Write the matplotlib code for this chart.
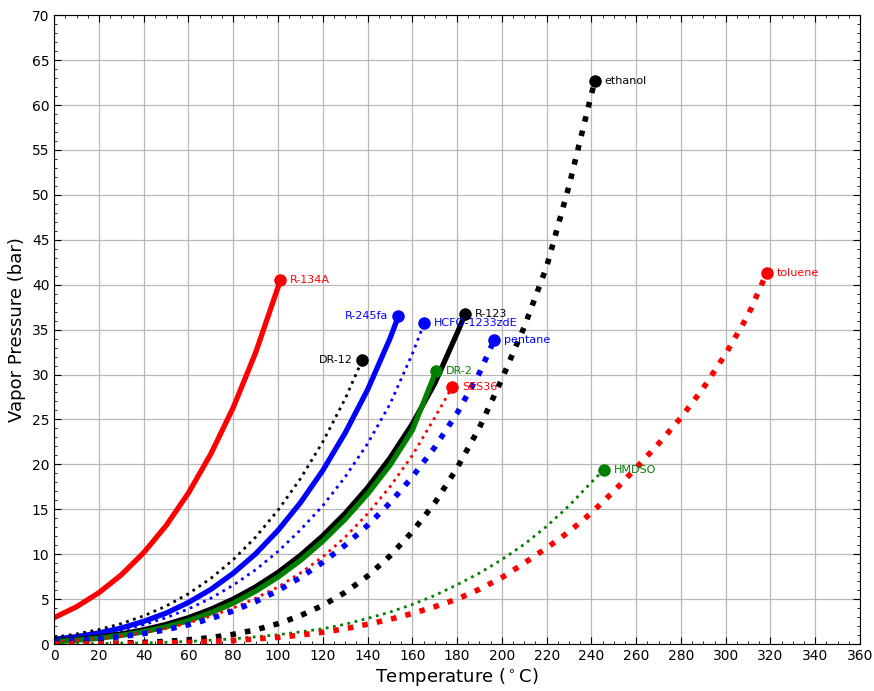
import numpy as np
import matplotlib
matplotlib.use("Agg")
import matplotlib.pyplot as plt
from matplotlib.ticker import MultipleLocator

# saturation curves: temperature (C) and pressure (bar)
t_r134a = [0, 10, 20, 30, 40, 50, 60, 70, 80, 90, 100, 101.0]
p_r134a = [2.93, 4.15, 5.72, 7.70, 10.17, 13.18, 16.82, 21.17, 26.33, 32.44, 39.72, 40.5]

t_r245fa = [0, 10, 20, 30, 40, 50, 60, 70, 80, 90, 100, 110, 120, 130, 140, 150, 153.8]
p_r245fa = [0.53, 0.82, 1.23, 1.78, 2.52, 3.44, 4.63, 6.08, 7.88, 10.04, 12.65, 15.73, 19.32, 23.5, 28.3, 34.0, 36.5]

t_hcfo = [0, 10, 20, 30, 40, 50, 60, 70, 80, 90, 100, 110, 120, 130, 140, 150, 160, 165.3]
p_hcfo = [0.50, 0.75, 1.08, 1.54, 2.15, 2.93, 3.90, 5.10, 6.55, 8.27, 10.3, 12.7, 15.4, 18.6, 22.3, 26.7, 32.3, 35.7]

t_dr12 = [0, 10, 20, 30, 40, 50, 60, 70, 80, 90, 100, 110, 120, 130, 137.6]
p_dr12 = [0.75, 1.12, 1.61, 2.27, 3.13, 4.22, 5.60, 7.31, 9.39, 11.9, 14.9, 18.4, 22.5, 27.3, 31.6]

t_r123 = [0, 10, 20, 30, 40, 50, 60, 70, 80, 90, 100, 110, 120, 130, 140, 150, 160, 170, 180, 183.6]
p_r123 = [0.33, 0.50, 0.76, 1.12, 1.58, 2.18, 2.93, 3.87, 5.0, 6.36, 7.97, 9.87, 12.05, 14.55, 17.4, 20.7, 24.5, 29.0, 34.6, 36.7]

t_dr2 = [0, 10, 20, 30, 40, 50, 60, 70, 80, 90, 100, 110, 120, 130, 140, 150, 160, 165, 170.6]
p_dr2 = [0.27, 0.42, 0.64, 0.95, 1.36, 1.9, 2.6, 3.47, 4.55, 5.88, 7.45, 9.3, 11.45, 13.9, 16.7, 19.9, 23.8, 26.9, 30.4]

t_ses36 = [0, 10, 20, 30, 40, 50, 60, 70, 80, 90, 100, 110, 120, 130, 140, 150, 160, 170, 177.8]
p_ses36 = [0.26, 0.40, 0.60, 0.88, 1.25, 1.73, 2.35, 3.1, 4.0, 5.1, 6.35, 7.9, 9.7, 11.9, 14.5, 17.5, 21.0, 25.2, 28.6]

t_pentane = [0, 10, 20, 30, 40, 50, 60, 70, 80, 90, 100, 110, 120, 130, 140, 150, 160, 170, 180, 190, 196.5]
p_pentane = [0.24, 0.37, 0.57, 0.82, 1.16, 1.59, 2.15, 2.83, 3.69, 4.72, 5.95, 7.4, 9.1, 11.0, 13.2, 15.7, 18.6, 21.9, 25.7, 30.2, 33.8]

t_ethanol = [0, 10, 20, 30, 40, 50, 60, 70, 80, 90, 100, 110, 120, 130, 140, 150, 160, 170, 180, 190, 200, 210, 220, 230, 240, 241.6]
p_ethanol = [0.016, 0.031, 0.058, 0.105, 0.18, 0.295, 0.47, 0.72, 1.08, 1.58, 2.26, 3.16, 4.30, 5.75, 7.56, 9.8, 12.5, 15.7, 19.6, 24.1, 29.5, 35.3, 42.0, 51.0, 61.2, 62.7]

t_hmdso = [0, 20, 40, 60, 80, 100, 110, 120, 130, 140, 150, 160, 170, 180, 190, 200, 210, 220, 230, 240, 245.6]
p_hmdso = [0.014, 0.045, 0.12, 0.28, 0.57, 1.03, 1.35, 1.7, 2.2, 2.85, 3.55, 4.4, 5.4, 6.6, 7.9, 9.4, 11.1, 13.1, 15.4, 18.0, 19.4]

t_toluene = [0, 20, 40, 60, 80, 100, 110, 120, 130, 140, 150, 160, 170, 180, 190, 200, 210, 220, 230, 240, 250, 260, 270, 280, 290, 300, 310, 318.3]
p_toluene = [0.009, 0.029, 0.079, 0.185, 0.39, 0.74, 1.0, 1.31, 1.7, 2.2, 2.75, 3.4, 4.15, 5.0, 6.1, 7.4, 9.0, 10.7, 12.5, 14.6, 17.0, 19.6, 22.3, 25.2, 28.5, 32.3, 36.6, 41.3]

# name, T, P, colour, linestyle, linewidth, label side
fluids = [
    ("R-134A", t_r134a, p_r134a, "r", "-", 3.8, "right"),
    ("R-245fa", t_r245fa, p_r245fa, "b", "-", 3.8, "left"),
    ("HCFO-1233zdE", t_hcfo, p_hcfo, "b", ":", 2, "right"),
    ("DR-12", t_dr12, p_dr12, "k", ":", 2, "left"),
    ("R-123", t_r123, p_r123, "k", "-", 3.8, "right"),
    ("DR-2", t_dr2, p_dr2, "g", "-", 3.8, "right"),
    ("SES36", t_ses36, p_ses36, "r", ":", 2, "right"),
    ("pentane", t_pentane, p_pentane, "b", ":", 4, "right"),
    ("ethanol", t_ethanol, p_ethanol, "k", ":", 4, "right"),
    ("HMDSO", t_hmdso, p_hmdso, "g", ":", 2, "right"),
    ("toluene", t_toluene, p_toluene, "r", ":", 4, "right"),
]

fig = plt.figure(figsize=(8.74, 6.91), dpi=100)
ax = fig.add_axes([0.062, 0.068, 0.922, 0.910])

for name, T, P, c, ls, lw, side in fluids:
    ax.plot(T, P, color=c, linestyle=ls, linewidth=lw)
    ax.plot(T[-1], P[-1], "o", color=c, markersize=8, markeredgecolor=c)
    if side == "right":
        ax.annotate(name, (T[-1], P[-1]), xytext=(7, 0), textcoords="offset points",
                    color=c, fontsize=8, ha="left", va="center")
    else:
        ax.annotate(name, (T[-1], P[-1]), xytext=(-7, 0), textcoords="offset points",
                    color=c, fontsize=8, ha="right", va="center")

ax.set_xlim(0, 360)
ax.set_ylim(0, 70)
ax.xaxis.set_major_locator(MultipleLocator(20))
ax.xaxis.set_minor_locator(MultipleLocator(5))
ax.yaxis.set_major_locator(MultipleLocator(5))
ax.yaxis.set_minor_locator(MultipleLocator(1))
ax.tick_params(which="both", direction="in", top=True, right=True, labelsize=10)
ax.tick_params(which="major", length=5)
ax.tick_params(which="minor", length=2.5)
ax.grid(True, which="major", color="0.72", linewidth=0.9)
ax.set_axisbelow(True)

ax.set_xlabel(r"Temperature ($^\circ$C)", fontsize=13, labelpad=2)
ax.set_ylabel("Vapor Pressure (bar)", fontsize=13, labelpad=4)

fig.savefig("out.png", dpi=100)
